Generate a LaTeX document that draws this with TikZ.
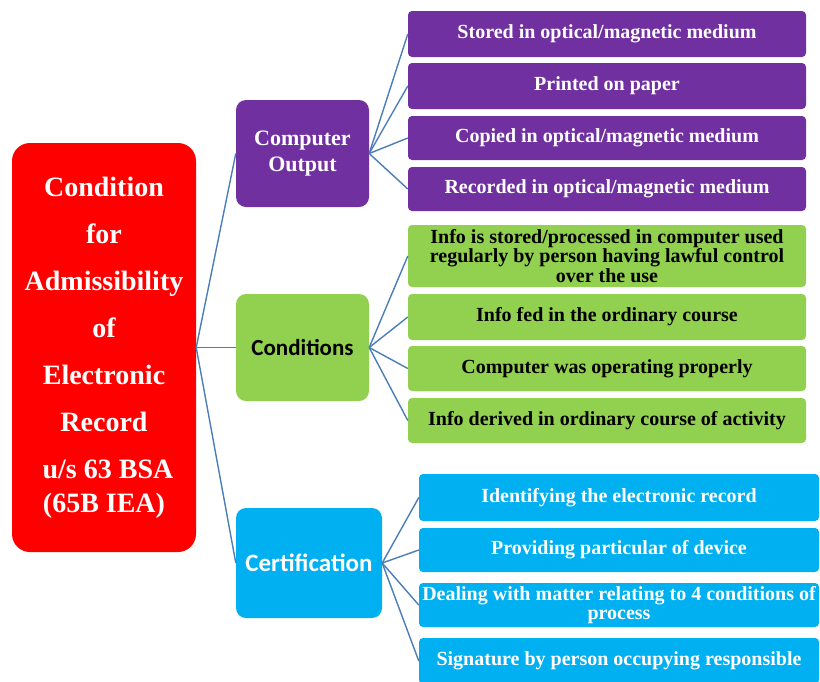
\documentclass[tikz,border=0pt]{standalone}
\usepackage{fontspec}
\usepackage{xcolor}
\usepackage{tikz}
\setmainfont{Liberation Serif}
\newfontfamily\carlito{Carlito}
\definecolor{rootred}{HTML}{FF0000}
\definecolor{outpurple}{HTML}{7030A0}
\definecolor{condgreen}{HTML}{92D050}
\definecolor{certblue}{HTML}{00B0F0}
\definecolor{linkblue}{HTML}{4A7EBB}

\begin{document}
\begin{tikzpicture}[x=1pt, y=-1pt,
  box/.style={rectangle, inner sep=0pt, align=center},
  mid/.style={box, rounded corners=10pt, minimum width=133pt, minimum height=107pt},
  leaf/.style={box, rounded corners=4pt, minimum width=398pt, font=\bfseries\fontsize{20}{19.5}\selectfont},
  link/.style={draw=linkblue, line width=1.4pt}]
\clip (0,0) rectangle (820,681);
\node[box, fill=rootred, text=white, rounded corners=18pt, minimum width=184pt, minimum height=409pt, font=\bfseries\fontsize{28}{47}\selectfont] (record) at (104,347.5) {Condition\\for\\Admissibility\\of\\Electronic\\Record\\\hspace*{8pt}u/s 63 BSA\\[-13pt](65B IEA)};
\node[mid, fill=outpurple, text=white, font=\bfseries\fontsize{22}{26}\selectfont] (output) at (302.5,153.5) {Computer\\Output};
\node[mid, fill=condgreen, text=black, font=\carlito\bfseries\fontsize{23}{26}\selectfont] (cond) at (302.5,347.5) {Conditions};
\node[mid, fill=certblue, text=white, minimum width=146pt, minimum height=110pt, font=\carlito\bfseries\fontsize{25}{28}\selectfont] (cert) at (309,563) {Certification};
\node[leaf, fill=outpurple, text=white, minimum height=46pt] (out1) at (607,34) {Stored in optical/magnetic medium};
\node[leaf, fill=outpurple, text=white, minimum height=46pt] (out2) at (607,86) {Printed on paper};
\node[leaf, fill=outpurple, text=white, minimum height=44pt] (out3) at (607,138) {Copied in optical/magnetic medium};
\node[leaf, fill=outpurple, text=white, minimum height=44pt] (out4) at (607,189) {Recorded in optical/magnetic medium};
\node[leaf, fill=condgreen, text=black, minimum height=62pt] (cond1) at (607,256) {Info is stored/processed in computer used\\regularly by person having lawful control\\over the use};
\node[leaf, fill=condgreen, text=black, minimum height=46pt] (cond2) at (607,317) {Info fed in the ordinary course};
\node[leaf, fill=condgreen, text=black, minimum height=45pt] (cond3) at (607,368.5) {Computer was operating properly};
\node[leaf, fill=condgreen, text=black, minimum height=45pt] (cond4) at (607,420.5) {Info derived in ordinary course of activity};
\node[leaf, fill=certblue, text=white, minimum width=400pt, minimum height=47pt] (cert1) at (619,497.5) {Identifying the electronic record};
\node[leaf, fill=certblue, text=white, minimum width=400pt, minimum height=44pt] (cert2) at (619,550) {Providing particular of device};
\node[leaf, fill=certblue, text=white, minimum width=400pt, minimum height=44pt] (cert3) at (619,605) {Dealing with matter relating to 4 conditions of\\process};
\node[leaf, fill=certblue, text=white, minimum width=400pt, minimum height=46pt] (cert4) at (619,661) {Signature by person occupying responsible};
\draw[link] (record.east) -- (output.west);
\draw[link] (record.east) -- (cond.west);
\draw[link] (record.east) -- (cert.west);
\draw[link] (output.east) -- (out1.west);
\draw[link] (output.east) -- (out2.west);
\draw[link] (output.east) -- (out3.west);
\draw[link] (output.east) -- (out4.west);
\draw[link] (cond.east) -- (cond1.west);
\draw[link] (cond.east) -- (cond2.west);
\draw[link] (cond.east) -- (cond3.west);
\draw[link] (cond.east) -- (cond4.west);
\draw[link] (cert.east) -- (cert1.west);
\draw[link] (cert.east) -- (cert2.west);
\draw[link] (cert.east) -- (cert3.west);
\draw[link] (cert.east) -- (cert4.west);
\end{tikzpicture}
\end{document}
